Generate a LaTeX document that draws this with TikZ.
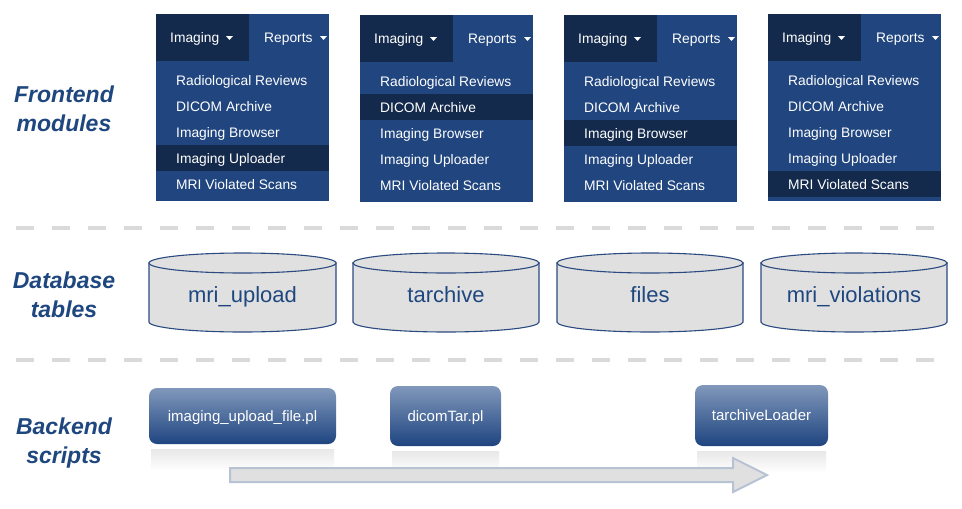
\documentclass[tikz,border=0pt]{standalone}
\usepackage{fontspec}
\setmainfont{Liberation Sans}
\definecolor{navdark}{HTML}{142A4C}
\definecolor{navblue}{HTML}{21467F}
\definecolor{labblue}{HTML}{1F477F}
\definecolor{cylfill}{HTML}{E0E0E0}
\definecolor{cylline}{HTML}{2A4A80}
\definecolor{dashgray}{HTML}{DADADA}
\definecolor{boxtop}{HTML}{8198BB}
\definecolor{boxbot}{HTML}{1E4480}
\definecolor{arrowline}{HTML}{B7C2D3}
\tikzset{
  menuitem/.style={anchor=base west, text=white, inner sep=0pt, font=\fontsize{13.8}{16}\selectfont},
  menuhead/.style={anchor=base west, text=white, inner sep=0pt, font=\fontsize{13.8}{16}\selectfont},
  sidelab/.style={align=center, text=labblue, inner sep=0pt, font=\fontsize{23}{29}\selectfont\bfseries\itshape},
  cyltext/.style={anchor=base, text=labblue, inner sep=0pt, font=\fontsize{22}{26}\selectfont},
  scripttext/.style={anchor=base, text=white, inner sep=0pt, font=\fontsize{15}{18}\selectfont},
  sepline/.style={dashgray, line width=4pt, dash pattern=on 18pt off 18pt},
  cyl/.style={fill=cylfill, draw=cylline, line width=1.1pt},
}
\newcommand\drawmenu[4]{%
  \fill[navblue] (#2,#3) rectangle ++(173,187);
  \fill[navdark] (#2,#3) rectangle ++(93,47);
  \fill[navdark] (#2,#3+53+26*#4) rectangle ++(173,26);
  \node[menuhead] (#1-img) at (#2+14,#3+28) {Imaging};
  \fill[white] (#2+70,#3+22) -- (#2+77,#3+22) -- (#2+73.5,#3+26) -- cycle;
  \node[menuhead] (#1-rep) at (#2+108,#3+28) {Reports};
  \fill[white] (#2+164,#3+22) -- (#2+171,#3+22) -- (#2+167.5,#3+26) -- cycle;
  \node[menuitem] (#1-a) at (#2+20,#3+71) {Radiological Reviews};
  \node[menuitem] (#1-b) at (#2+20,#3+97) {DICOM Archive};
  \node[menuitem] (#1-c) at (#2+20,#3+123) {Imaging Browser};
  \node[menuitem] (#1-d) at (#2+20,#3+149) {Imaging Uploader};
  \node[menuitem] (#1-e) at (#2+20,#3+175) {MRI Violated Scans};
}
\newcommand\drawcyl[4]{% name, left x, right x, text
  \path[cyl] (#2,263) -- (#2,322) arc[start angle=180, end angle=0, x radius={(#3-#2)/2}, y radius=10] -- (#3,263) -- cycle;
  \path[cyl] ({(#2+#3)/2},263) ellipse [x radius={(#3-#2)/2}, y radius=10];
  \node[cyltext] (#1) at ({(#2+#3)/2},302) {#4};
}
\newcommand\drawscript[7]{% name, x1, y1, x2, y2, text, baseline
  \shade[top color=black!9, bottom color=white] (#2+2,#5+5) rectangle (#4-2,#5+27);
  \shade[top color=boxtop, bottom color=boxbot, rounded corners=8pt] (#2,#3) rectangle (#4,#5);
  \node[scripttext] (#1) at ({(#2+#4)/2},#7) {#6};
}
\begin{document}
\begin{tikzpicture}[x=1pt, y=-1pt]
\useasboundingbox (0,0) rectangle (962,509);
\fill[white] (0,0) rectangle (962,509);

% side labels
\node[sidelab] (fe) at (64,109) {Frontend\\modules};
\node[sidelab] (db) at (64,294.5) {Database\\tables};
\node[sidelab] (be) at (64,443) {Backend\\scripts};

% separators
\draw[sepline] (16,228) -- (946,228);
\draw[sepline] (16,360) -- (946,360);

% menus
\drawmenu{m1}{156}{14}{3}
\drawmenu{m2}{360}{15}{1}
\drawmenu{m3}{564}{15}{2}
\drawmenu{m4}{768}{14}{4}

% cylinders
\drawcyl{c1}{149}{336}{mri\_upload}
\drawcyl{c2}{353}{539}{tarchive}
\drawcyl{c3}{557}{743}{files}
\drawcyl{c4}{761}{947}{mri\_violations}

% backend scripts
\drawscript{s1}{149}{388}{336}{444}{imaging\_upload\_file.pl}{421}
\drawscript{s2}{390}{386}{501}{446}{dicomTar.pl}{421}
\drawscript{s3}{695}{385}{828}{446}{tarchiveLoader}{420}

% big arrow
\filldraw[fill=cylfill, draw=arrowline, line width=2pt, line join=miter]
  (230,468) -- (733,468) -- (733,458) -- (767,475) -- (733,492) -- (733,482) -- (230,482) -- cycle;
\end{tikzpicture}
\end{document}
